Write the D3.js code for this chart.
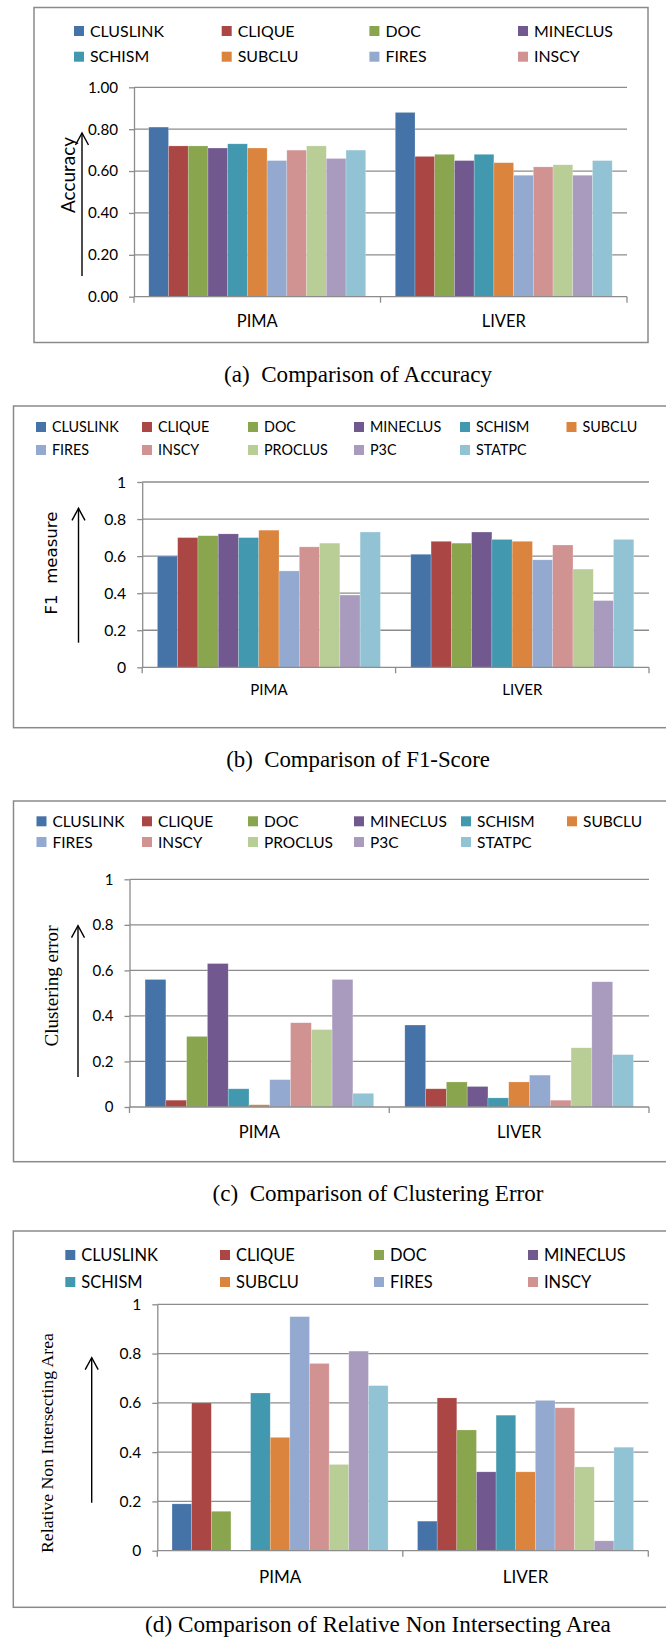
<!DOCTYPE html>
<html>
<head>
<meta charset="utf-8">
<script src="https://cdn.jsdelivr.net/npm/d3@7"></script>
<style>
  body { margin: 0; background: #fff; }
  svg { display: block; }
</style>
</head>
<body>
<div id="chart"></div>
<script>
// methods (series) and datasets (categories)
var methods = ["CLUSLINK", "CLIQUE", "DOC", "MINECLUS", "SCHISM", "SUBCLU",
               "FIRES", "INSCY", "PROCLUS", "P3C", "STATPC"];
var datasets = ["PIMA", "LIVER"];
var colors = ["#4572A7", "#AA4643", "#89A54E", "#71588F", "#4198AF", "#DB843D",
              "#93A9CF", "#D19392", "#B9CD96", "#A99BBD", "#92C3D4"];

// (a) accuracy
var accuracyPima  = [0.81, 0.72, 0.72, 0.71, 0.73, 0.71, 0.65, 0.70, 0.72, 0.66, 0.70];
var accuracyLiver = [0.88, 0.67, 0.68, 0.65, 0.68, 0.64, 0.58, 0.62, 0.63, 0.58, 0.65];
// (b) F1 measure
var f1Pima  = [0.60, 0.70, 0.71, 0.72, 0.70, 0.74, 0.52, 0.65, 0.67, 0.39, 0.73];
var f1Liver = [0.61, 0.68, 0.67, 0.73, 0.69, 0.68, 0.58, 0.66, 0.53, 0.36, 0.69];
// (c) clustering error
var errorPima  = [0.56, 0.03, 0.31, 0.63, 0.08, 0.01, 0.12, 0.37, 0.34, 0.56, 0.06];
var errorLiver = [0.36, 0.08, 0.11, 0.09, 0.04, 0.11, 0.14, 0.03, 0.26, 0.55, 0.23];
// (d) relative non intersecting area
var rniaPima  = [0.19, 0.60, 0.16, 0.00, 0.64, 0.46, 0.95, 0.76, 0.35, 0.81, 0.67];
var rniaLiver = [0.12, 0.62, 0.49, 0.32, 0.55, 0.32, 0.61, 0.58, 0.34, 0.04, 0.42];

var tickValues = [0, 0.2, 0.4, 0.6, 0.8, 1];
var tickLabelsAccuracy = ["0.00", "0.20", "0.40", "0.60", "0.80", "1.00"];
var tickLabelsShort = ["0", "0.2", "0.4", "0.6", "0.8", "1"];

var W = 666, H = 1639;
var sans = "Lato, 'Open Sans', sans-serif";
var serif = "'Liberation Serif', 'Times New Roman', serif";

var svg = d3.select("#chart").append("svg")
    .attr("width", W)
    .attr("height", H);

// hidden text used to size fonts from widths
var measurer = svg.append("text").attr("x", -1000).attr("y", -1000).style("white-space", "pre");
function fitSize(txt, family, target) {
    measurer.style("font-family", family).style("font-size", "100px").text(txt);
    var w = measurer.node().getComputedTextLength();
    return 100 * target / w;
}

// layout of every panel (widths = measured width of a sample text)
var panels = [
  { pima: accuracyPima, liver: accuracyLiver, labels: tickLabelsAccuracy, tickSample: "1.00", tickW: 30,
    box: [34, 7.5, 648, 342.5], plot: [134, 627, 296.7, 87.3],
    legendCount: 8, legendCols: [74, 221.7, 369.4, 518], legendRows: [31, 56.7], legendW: 74,
    catY: 321.7, catW: 41,
    ylabel: "Accuracy", ylabelFont: sans, ylabelW: 76, ylabelPos: [68, 175],
    arrow: [82, 276, 133],
    caption: "(a)  Comparison of Accuracy", capPos: [358, 382], capW: 268 },
  { pima: f1Pima, liver: f1Liver, labels: tickLabelsShort, tickSample: "0.8", tickW: 22,
    box: [13.5, 406, 700, 727.7], plot: [142.2, 649, 667.3, 482],
    legendCount: 11, legendCols: [36, 142, 248, 354, 460, 566.5], legendRows: [427, 450], legendW: 66.7,
    catY: 690, catW: 37.4,
    ylabel: "F1  measure", ylabelFont: "'DejaVu Sans', sans-serif", ylabelW: 103, ylabelPos: [51, 563],
    arrow: [78.5, 642.7, 508.3],
    caption: "(b)  Comparison of F1-Score", capPos: [358, 767], capW: 264 },
  { pima: errorPima, liver: errorLiver, labels: tickLabelsShort, tickSample: "0.8", tickW: 21,
    box: [13.5, 801, 700, 1161.7], plot: [129.5, 649, 1107, 879.3],
    legendCount: 11, legendCols: [36.5, 142, 248, 354, 461, 567], legendRows: [821.3, 842], legendW: 72,
    catY: 1131.7, catW: 41.2,
    ylabel: "Clustering error", ylabelFont: serif, ylabelW: 121, ylabelPos: [51, 986],
    arrow: [78, 1077, 925.7],
    caption: "(c)  Comparison of Clustering Error", capPos: [378, 1201], capW: 331 },
  { pima: rniaPima, liver: rniaLiver, labels: tickLabelsShort, tickSample: "0.8", tickW: 21.7,
    box: [13.3, 1231, 700, 1607.3], plot: [157.3, 648.3, 1550.7, 1304.3],
    legendCount: 8, legendCols: [65.3, 220, 374, 528], legendRows: [1255, 1282], legendW: 76.7,
    catY: 1576.7, catW: 42.3,
    ylabel: "Relative Non Intersecting Area", ylabelFont: serif, ylabelW: 220, ylabelPos: [46.7, 1443],
    arrow: [91.7, 1502.7, 1357.7],
    caption: "(d) Comparison of Relative Non Intersecting Area", capPos: [378, 1632], capW: 466 }
];

panels.forEach(drawPanel);
measurer.remove();

function drawPanel(p) {
    var g = svg.append("g");

    // outer frame
    g.append("rect")
        .attr("x", p.box[0]).attr("y", p.box[1])
        .attr("width", p.box[2] - p.box[0]).attr("height", p.box[3] - p.box[1])
        .attr("fill", "none")
        .attr("stroke", "#8a8a8a")
        .attr("stroke-width", 1.5);

    // scales
    var x0 = d3.scaleBand().domain(datasets).range([p.plot[0], p.plot[1]]);
    var x1 = d3.scaleBand().domain(methods).range([0, x0.bandwidth()])
        .paddingInner(0).paddingOuter(0.75);
    var y = d3.scaleLinear().domain([0, 1]).range([p.plot[2], p.plot[3]]);

    // gridlines
    g.selectAll(".grid")
        .data(tickValues.slice(1))
        .enter().append("line")
        .attr("x1", p.plot[0]).attr("x2", p.plot[1])
        .attr("y1", function(d) { return y(d); })
        .attr("y2", function(d) { return y(d); })
        .attr("stroke", "#8c8c8c")
        .attr("stroke-width", 1.3);

    // bars
    var rows = [p.pima, p.liver];
    datasets.forEach(function(ds, k) {
        g.append("g")
            .attr("transform", "translate(" + x0(ds) + ",0)")
            .selectAll("rect")
            .data(rows[k])
            .enter().append("rect")
            .attr("x", function(d, i) { return x1(methods[i]); })
            .attr("y", function(d) { return y(d); })
            .attr("width", x1.bandwidth())
            .attr("height", function(d) { return y(0) - y(d); })
            .attr("fill", function(d, i) { return colors[i]; })
            .attr("stroke", "#fff")
            .attr("stroke-opacity", 0.35)
            .attr("stroke-width", 0.6);
    });

    // y axis
    var tickSize = fitSize(p.tickSample, sans, p.tickW);
    var yAxis = d3.axisLeft(y)
        .tickValues(tickValues)
        .tickSize(5)
        .tickSizeOuter(0)
        .tickPadding(11)
        .tickFormat(function(d, i) { return p.labels[i]; });
    var ya = g.append("g")
        .attr("transform", "translate(" + p.plot[0] + ",0)")
        .call(yAxis);
    ya.selectAll("path, line").attr("stroke", "#8c8c8c").attr("stroke-width", 1.3);
    ya.selectAll("text")
        .attr("fill", "#000")
        .style("font-family", sans)
        .style("font-size", tickSize + "px");

    // x axis: baseline + ticks at category boundaries
    g.append("line")
        .attr("x1", p.plot[0]).attr("x2", p.plot[1])
        .attr("y1", y(0)).attr("y2", y(0))
        .attr("stroke", "#8c8c8c").attr("stroke-width", 1.3);
    var bounds = datasets.map(function(d) { return x0(d); }).concat([p.plot[1]]);
    g.selectAll(".xtick")
        .data(bounds)
        .enter().append("line")
        .attr("x1", function(d) { return d; }).attr("x2", function(d) { return d; })
        .attr("y1", y(0)).attr("y2", y(0) + 6)
        .attr("stroke", "#8c8c8c").attr("stroke-width", 1.3);
    var catSize = fitSize("PIMA", sans, p.catW);
    var xAxis = d3.axisBottom(x0).tickSize(0).tickPadding(0);
    var xa = g.append("g")
        .attr("transform", "translate(0," + p.catY + ")")
        .call(xAxis);
    xa.select(".domain").remove();
    xa.selectAll("text")
        .attr("dy", "0.35em")
        .attr("fill", "#000")
        .style("font-family", sans)
        .style("font-size", catSize + "px");

    // legend
    var legendSize = fitSize("CLUSLINK", sans, p.legendW);
    var nCols = p.legendCols.length;
    var leg = g.selectAll(".leg")
        .data(methods.slice(0, p.legendCount))
        .enter().append("g")
        .attr("transform", function(d, i) {
            return "translate(" + p.legendCols[i % nCols] + "," + p.legendRows[Math.floor(i / nCols)] + ")";
        });
    leg.append("rect")
        .attr("x", 0).attr("y", -5)
        .attr("width", 10).attr("height", 10)
        .attr("fill", function(d, i) { return colors[i]; });
    leg.append("text")
        .attr("x", 16)
        .attr("dy", "0.36em")
        .style("font-family", sans)
        .style("font-size", legendSize + "px")
        .text(function(d) { return d; });

    // y label
    var ylabelSize = fitSize(p.ylabel, p.ylabelFont, p.ylabelW);
    g.append("text")
        .attr("transform", "translate(" + p.ylabelPos[0] + "," + p.ylabelPos[1] + ") rotate(-90)")
        .attr("text-anchor", "middle")
        .attr("dy", "0.35em")
        .style("font-family", p.ylabelFont)
        .style("font-size", ylabelSize + "px")
        .style("white-space", "pre")
        .text(p.ylabel);

    // arrow beside the y label
    var ax = p.arrow[0], ab = p.arrow[1], at = p.arrow[2];
    g.append("line")
        .attr("x1", ax).attr("x2", ax).attr("y1", ab).attr("y2", at)
        .attr("stroke", "#000").attr("stroke-width", 1.4);
    g.append("path")
        .attr("d", "M" + (ax - 6.5) + "," + (at + 12) + "L" + ax + "," + at + "L" + (ax + 6.5) + "," + (at + 12))
        .attr("fill", "none")
        .attr("stroke", "#000").attr("stroke-width", 1.4);

    // caption
    var capSize = fitSize(p.caption, serif, p.capW);
    svg.append("text")
        .attr("x", p.capPos[0])
        .attr("y", p.capPos[1])
        .attr("text-anchor", "middle")
        .style("font-family", serif)
        .style("font-size", capSize + "px")
        .style("white-space", "pre")
        .text(p.caption);
}
</script>
</body>
</html>
